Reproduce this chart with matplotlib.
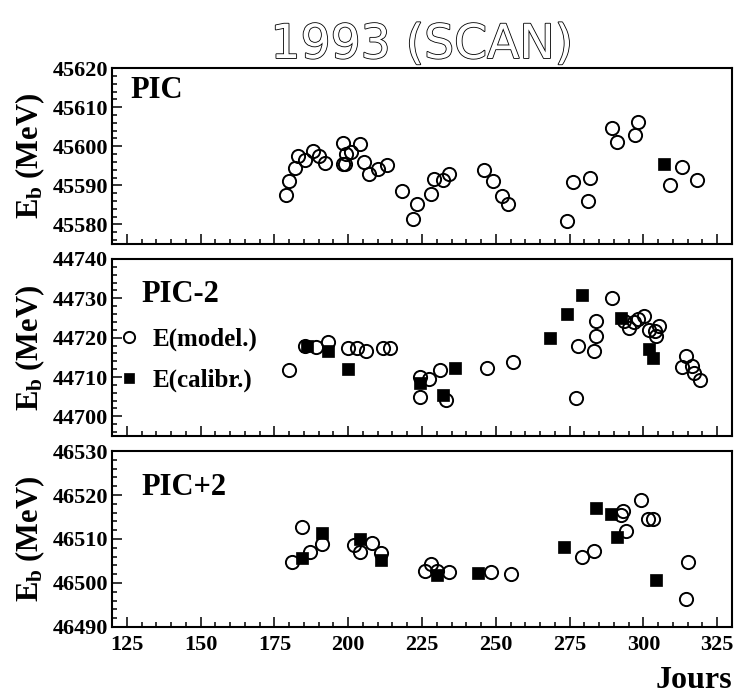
import matplotlib
matplotlib.use('Agg')
import matplotlib.pyplot as plt
import matplotlib.patheffects as pe
from matplotlib.lines import Line2D
from matplotlib.ticker import MultipleLocator

plt.rcParams['font.family'] = 'Liberation Serif'
plt.rcParams['font.weight'] = 'bold'
plt.rcParams['axes.labelweight'] = 'bold'
plt.rcParams['mathtext.fontset'] = 'custom'
plt.rcParams['mathtext.rm'] = 'Liberation Serif:bold'
plt.rcParams['mathtext.it'] = 'Liberation Serif:bold'
plt.rcParams['mathtext.bf'] = 'Liberation Serif:bold'

# --- PIC ---
pic_days = [179.1, 180.1, 182.1, 183.0, 185.3, 188.1, 190.0, 192.1, 198.2, 198.2,
            199.1, 199.0, 201.0, 204.1, 205.2, 207.1, 210.1, 213.1, 218.2, 223.2,
            222.0, 228.1, 229.1, 232.0, 234.1, 246.0, 249.0, 252.1, 254.2, 274.1,
            276.2, 281.1, 282.0, 289.3, 291.1, 297.1, 298.2, 309.1, 313.1, 318.2]
pic_model = [45587.6, 45591.0, 45594.4, 45597.4, 45596.4, 45598.8, 45597.4, 45595.6, 45600.8, 45595.4,
             45598.1, 45595.4, 45598.5, 45600.5, 45595.9, 45592.9, 45594.1, 45595.3, 45588.5, 45585.2,
             45581.4, 45587.9, 45591.5, 45591.4, 45592.9, 45593.9, 45591.0, 45587.3, 45585.3, 45580.8,
             45590.8, 45586.0, 45592.0, 45604.7, 45601.2, 45603.0, 45606.1, 45590.0, 45594.7, 45591.3]
pic_cal_days = [307.1]
pic_cal = [45595.4]

# --- PIC-2 ---
m2_days = [180.1, 185.2, 189.1, 193.0, 200.1, 202.9, 206.0, 211.8, 214.3, 224.2,
           227.3, 224.2, 231.0, 233.2, 246.9, 255.9, 277.1, 278.0, 283.2, 284.0,
           284.0, 289.3, 293.4, 295.2, 296.9, 298.2, 300.3, 302.0, 303.9, 305.4,
           304.2, 314.3, 313.0, 316.3, 317.1, 319.1]
m2_model = [44711.7, 44717.8, 44717.6, 44718.8, 44717.3, 44717.5, 44716.5, 44717.4, 44717.4, 44710.0,
            44709.4, 44704.9, 44711.7, 44704.2, 44712.4, 44713.9, 44704.7, 44717.8, 44716.7, 44720.5,
            44724.3, 44730.2, 44724.3, 44722.5, 44723.9, 44724.8, 44725.5, 44722.0, 44721.8, 44722.9,
            44720.3, 44715.4, 44712.5, 44712.7, 44711.0, 44709.3]
m2_cal_days = [186.1, 193.0, 200.1, 224.2, 232.1, 236.2, 268.2, 274.1, 279.2, 292.3, 302.0, 303.1]
m2_cal = [44717.8, 44716.6, 44712.1, 44708.5, 44705.5, 44712.2, 44719.9, 44726.0, 44730.9, 44724.9,
          44717.0, 44714.9]

# --- PIC+2 ---
p2_days = [181.0, 184.2, 187.2, 191.1, 201.8, 204.1, 208.0, 211.2, 226.1, 228.1,
           230.0, 234.1, 248.3, 255.0, 279.1, 283.2, 293.0, 292.4, 294.1, 299.2,
           301.4, 303.3, 315.2, 314.3]
p2_model = [46504.8, 46512.7, 46507.0, 46508.8, 46508.6, 46507.0, 46509.0, 46506.9, 46502.7, 46504.4,
            46502.7, 46502.5, 46502.6, 46502.0, 46505.9, 46507.3, 46516.4, 46515.5, 46511.8, 46518.9,
            46514.5, 46514.6, 46504.8, 46496.3]
p2_cal_days = [184.2, 191.1, 204.1, 211.2, 230.1, 244.1, 273.1, 284.1, 289.1, 291.0, 304.1]
p2_cal = [46505.7, 46511.3, 46510.1, 46505.2, 46501.8, 46502.3, 46508.2, 46517.1, 46515.6, 46510.5,
          46500.7]

x_ticks = [125, 150, 175, 200, 225, 250, 275, 300, 325]

panels = [
    ('PIC', pic_days, pic_model, pic_cal_days, pic_cal, (45575, 45620), 45580,
     [0.1524, 0.6514, 0.8435, 0.2514], (0.029, 0.83)),
    ('PIC-2', m2_days, m2_model, m2_cal_days, m2_cal, (44695, 44740), 44700,
     [0.1524, 0.3771, 0.8435, 0.2529], (0.048, 0.757)),
    ('PIC+2', p2_days, p2_model, p2_cal_days, p2_cal, (46490, 46530), 46490,
     [0.1524, 0.1043, 0.8435, 0.2514], (0.048, 0.75)),
]

circ = dict(ls='none', marker='o', mfc='none', mec='black', ms=9.5, mew=1.4)
sq = dict(ls='none', marker='s', mfc='black', mec='black', ms=8.5, mew=0.5)

fig = plt.figure(figsize=(7.35, 7.0), dpi=100)
axes = []
for name, dx, dy, cx, cy, ylim, y0, rect, tpos in panels:
    ax = fig.add_axes(rect)
    ax.plot(dx, dy, **circ)
    ax.plot(cx, cy, **sq)
    ax.set_xlim(120, 330)
    ax.set_ylim(*ylim)
    ax.set_xticks(x_ticks)
    ax.xaxis.set_minor_locator(MultipleLocator(5))
    ax.set_yticks(list(range(y0, ylim[1] + 1, 10)))
    ax.yaxis.set_minor_locator(MultipleLocator(2))
    ax.yaxis.set_major_formatter(matplotlib.ticker.FormatStrFormatter('%d'))
    ax.tick_params(which='both', direction='in', top=False, right=False,
                   labelsize=16, width=1.1)
    ax.tick_params(which='major', length=7.5)
    ax.tick_params(which='minor', length=3.8)
    ax.tick_params(axis='y', pad=3)
    ax.tick_params(axis='x', pad=6)
    for s in ax.spines.values():
        s.set_linewidth(1.5)
    ax.text(tpos[0], tpos[1], name, transform=ax.transAxes, fontsize=22,
            fontweight='bold', ha='left', va='baseline')
    ax.set_ylabel(r'$E_b$ (MeV)', fontsize=22, fontweight='bold')
    ax.yaxis.set_label_coords(-0.105, 0.5)
    axes.append(ax)

axes[0].tick_params(labelbottom=False)
axes[1].tick_params(labelbottom=False)

handles = [Line2D([], [], label='E(model.)', **circ),
           Line2D([], [], label='E(calibr.)', **sq)]
axes[1].legend(handles=handles, loc='upper left', bbox_to_anchor=(0.0, 0.612),
               borderaxespad=0, borderpad=0, frameon=False, handlelength=1.36,
               handletextpad=0.25, labelspacing=0.7, markerscale=0.85,
               prop={'size': 18, 'weight': 'bold'})

axes[2].set_xlabel('Jours', fontsize=23, fontweight='bold', loc='right', labelpad=8)

fig.text(0.574, 0.917, '1993 (SCAN)', ha='center', va='baseline', fontsize=34,
         family='DejaVu Sans', fontweight='normal', color='white',
         path_effects=[pe.withStroke(linewidth=1.2, foreground='black')])

fig.savefig('out.png', dpi=100)
